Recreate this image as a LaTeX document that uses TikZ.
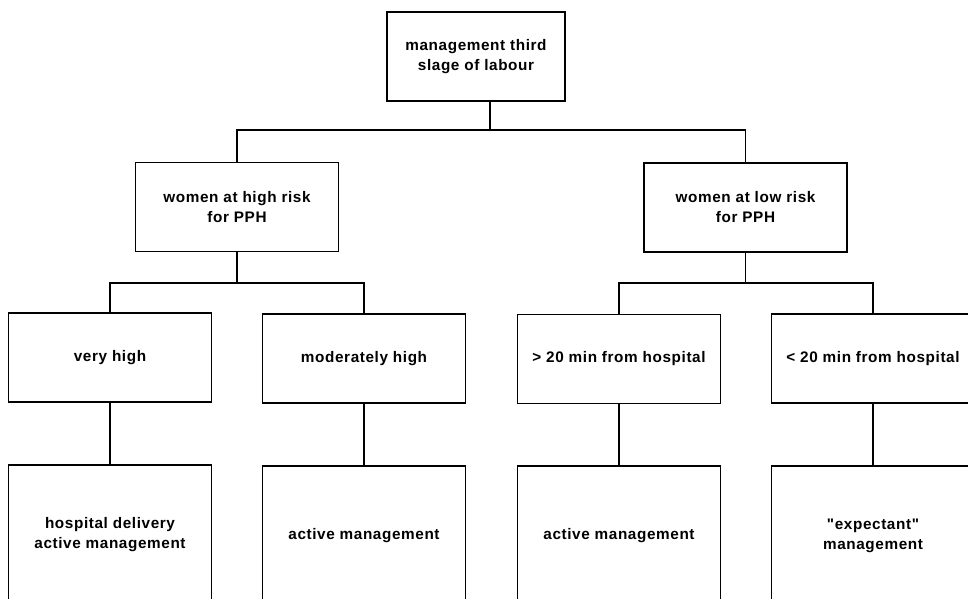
\documentclass[tikz,border=0pt]{standalone}
\usepackage{fontspec}
\newfontfamily\boxfont[LetterSpace=4]{Liberation Sans}
\usetikzlibrary{positioning}

\begin{document}
\begin{tikzpicture}[
  x=1pt, y=-1pt,
  font=\boxfont\bfseries\fontsize{15.3}{20}\selectfont,
  box/.style={draw, line width=1.2pt, inner sep=0pt, align=center,
              minimum width=203pt, minimum height=89pt},
  leaf/.style={box, minimum height=140pt},
  link/.style={line width=1.2pt},
  ]
\useasboundingbox (0,0) rectangle (968,598);
\clip (0,0) rectangle (968,598);

\node[box, minimum width=178pt] (root) at (476,56.5) {management third\\ slage of labour};
\node[box] (high) at (237,207) {women at high risk\\for PPH};
\node[box] (low)  at (745.5,207.5) {women at low risk\\for PPH};

\node[box] (vhigh) at (110,357.5) {very high};
\node[box] (mhigh) at (364,358.5) {moderately high};
\node[box] (far)   at (619,359) {> 20 min from hospital};
\node[box] (near)  at (873,358.5) {< 20 min from hospital};

\node[leaf] (vhighm) at (110,535) {hospital delivery\\active management};
\node[leaf] (mhighm) at (364,536) {active management};
\node[leaf] (farm)   at (619,536) {active management};
\node[leaf] (nearm)  at (873,536) {"expectant"\\management};

\coordinate (split)  at (490,130);
\coordinate (hsplit) at (237,283);
\coordinate (lsplit) at (745.5,283);

\draw[link] (root.south -| split) -- (split);
\draw[link] (high.north) |- (split) -| (low.north);
\draw[link] (high.south) -- (hsplit);
\draw[link] (vhigh.north) |- (hsplit) -| (mhigh.north);
\draw[link] (low.south) -- (lsplit);
\draw[link] (far.north) |- (lsplit) -| (near.north);

\draw[link] (vhigh) -- (vhighm);
\draw[link] (mhigh) -- (mhighm);
\draw[link] (far) -- (farm);
\draw[link] (near) -- (nearm);
\end{tikzpicture}
\end{document}
